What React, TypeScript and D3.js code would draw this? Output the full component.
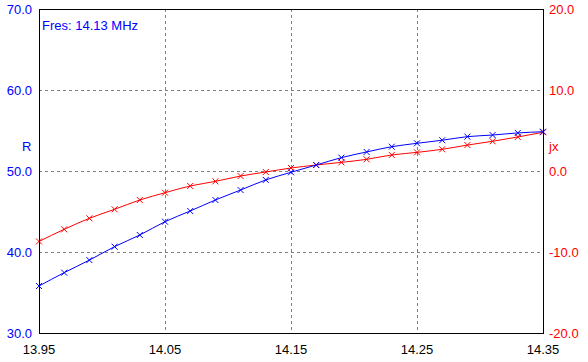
import React from "react";
import * as d3 from "d3";

const freqs = [13.95, 13.97, 13.99, 14.01, 14.03, 14.05, 14.07, 14.09, 14.11, 14.13, 14.15, 14.17, 14.19, 14.21, 14.23, 14.25, 14.27, 14.29, 14.31, 14.33, 14.35];
const rValues = [35.8, 37.45, 39.0, 40.66, 42.1, 43.74, 45.06, 46.42, 47.65, 48.9, 49.84, 50.74, 51.65, 52.35, 53.0, 53.42, 53.8, 54.24, 54.44, 54.7, 54.85];
const xValues = [-8.7, -7.2, -5.84, -4.73, -3.58, -2.68, -1.85, -1.28, -0.62, -0.12, 0.37, 0.74, 1.07, 1.44, 1.98, 2.3, 2.68, 3.2, 3.67, 4.2, 4.78];
const xTicks = [13.95, 14.05, 14.15, 14.25, 14.35];
const rTicks = [30, 40, 50, 60, 70];
const jxTicks = [-20, -10, 0, 10, 20];
const fresLabel = "Fres: 14.13 MHz";

export default function App() {
  const W = 588, H = 362;
  const L = 39, R = 543, T = 9, B = 333;
  const x = d3.scaleLinear().domain([13.95, 14.35]).range([L, R]);
  const yR = d3.scaleLinear().domain([30, 70]).range([B, T]);
  const yX = d3.scaleLinear().domain([-20, 20]).range([B, T]);
  const lineR = d3.line<number>().x((_, i) => x(freqs[i])).y((d) => yR(d)).curve(d3.curveMonotoneX);
  const lineX = d3.line<number>().x((_, i) => x(freqs[i])).y((d) => yX(d)).curve(d3.curveMonotoneX);
  const font = "Arial, 'Liberation Sans', sans-serif";
  const marker = (cx: number, cy: number, color: string, key: string) => (
    <g key={key} stroke={color} strokeWidth={1}>
      <line x1={cx - 3} y1={cy - 3} x2={cx + 3} y2={cy + 3} />
      <line x1={cx - 3} y1={cy + 3} x2={cx + 3} y2={cy - 3} />
    </g>
  );
  return (
    <svg width={W} height={H} style={{ position: "absolute", left: 0, top: 0, background: "#fff" }} fontFamily={font} fontSize={13}>
      <rect x={0} y={0} width={W} height={H} fill="#fff" />
      {xTicks.slice(1, -1).map((t) => (
        <line key={"gx" + t} x1={x(t) + 0.5} x2={x(t) + 0.5} y1={T} y2={B} stroke="#808080" strokeDasharray="3,3" />
      ))}
      {rTicks.slice(1, -1).map((t) => (
        <line key={"gy" + t} x1={L} x2={R} y1={yR(t) + 0.5} y2={yR(t) + 0.5} stroke="#808080" strokeDasharray="3,3" />
      ))}
      <path d={lineX(xValues) || ""} fill="none" stroke="#ff0000" strokeWidth={1} />
      <path d={lineR(rValues) || ""} fill="none" stroke="#0000ff" strokeWidth={1} />
      {xValues.map((v, i) => marker(x(freqs[i]), yX(v), "#ff0000", "mx" + i))}
      {rValues.map((v, i) => marker(x(freqs[i]), yR(v), "#0000ff", "mr" + i))}
      <rect x={L + 0.5} y={T + 0.5} width={R - L} height={B - T} fill="none" stroke="#000" strokeWidth={1} />
      {rTicks.map((t) => (
        <text key={"rl" + t} x={L - 7} y={yR(t)} dy="0.36em" textAnchor="end" fill="#0000ff">{t.toFixed(1)}</text>
      ))}
      {jxTicks.map((t) => (
        <text key={"xl" + t} x={R + 6} y={yX(t)} dy="0.36em" textAnchor="start" fill="#ff0000">{t.toFixed(1)}</text>
      ))}
      {xTicks.map((t) => (
        <text key={"bl" + t} x={x(t)} y={354} textAnchor="middle" fill="#000">{t.toFixed(2)}</text>
      ))}
      <text x={22} y={151} fill="#0000ff">R</text>
      <text x={549} y={151} fill="#ff0000">jx</text>
      <text x={42} y={30} fill="#0000ff">{fresLabel}</text>
    </svg>
  );
}
